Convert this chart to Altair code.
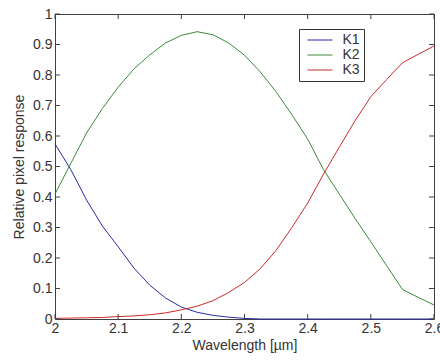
import altair as alt
import pandas as pd

wavelength = [2.0, 2.025, 2.05, 2.075, 2.1, 2.125, 2.15, 2.175, 2.2, 2.225, 2.25, 2.275, 2.3,
              2.325, 2.35, 2.375, 2.4, 2.425, 2.45, 2.475, 2.5, 2.525, 2.55, 2.575, 2.6]
k1 = [0.574, 0.49, 0.39, 0.305, 0.237, 0.167, 0.111, 0.069, 0.039, 0.022, 0.012, 0.006, 0.002,
      0.0, 0.0, 0.0, 0.0, 0.0, 0.0, 0.0, 0.0, 0.0, 0.0, 0.0, 0.0]
k2 = [0.41, 0.51, 0.61, 0.69, 0.76, 0.82, 0.866, 0.905, 0.93, 0.942, 0.932, 0.905, 0.865,
      0.81, 0.745, 0.67, 0.59, 0.49, 0.41, 0.33, 0.253, 0.175, 0.097, 0.071, 0.046]
k3 = [0.002, 0.003, 0.004, 0.005, 0.008, 0.010, 0.014, 0.020, 0.030, 0.042, 0.06, 0.087, 0.12,
      0.165, 0.225, 0.30, 0.38, 0.475, 0.563, 0.65, 0.729, 0.785, 0.84, 0.868, 0.895]
series_names = ["K1", "K2", "K3"]
series_colors = ["#2a2aa8", "#3a8a3a", "#cc2a2a"]
x_ticks = [2.0, 2.1, 2.2, 2.3, 2.4, 2.5, 2.6]
y_ticks = [0, 0.1, 0.2, 0.3, 0.4, 0.5, 0.6, 0.7, 0.8, 0.9, 1.0]

rows = []
for name, vals in zip(series_names, [k1, k2, k3]):
    for w, v in zip(wavelength, vals):
        rows.append({"wavelength": w, "response": v, "series": name})
df = pd.DataFrame(rows)

W, H = 379, 305
TL = 5
FONT = "Liberation Sans"

xscale = alt.Scale(domain=[2.0, 2.6], nice=False, zero=False)
yscale = alt.Scale(domain=[0, 1], nice=False)

xaxis = alt.Axis(title="Wavelength [µm]", values=x_ticks, ticks=False,
                 labelExpr="format(datum.value, '.1~f')",
                 labelPadding=2, titlePadding=3, grid=False,
                 labelFlush=False, labelOverlap=False)
yaxis = alt.Axis(title="Relative pixel response", values=y_ticks, ticks=False,
                 labelExpr="format(datum.value, '.1~f')",
                 labelPadding=3, titlePadding=6, grid=False,
                 labelFlush=False, labelOverlap=False)

lines = alt.Chart(df).mark_line(strokeWidth=1).encode(
    x=alt.X("wavelength:Q", scale=xscale, axis=xaxis),
    y=alt.Y("response:Q", scale=yscale, axis=yaxis),
    color=alt.Color("series:N",
                    scale=alt.Scale(domain=series_names, range=series_colors),
                    legend=alt.Legend(title=None, orient="none", legendX=244, legendY=15,
                                      symbolType="M-2,0H2", symbolSize=156,
                                      symbolStrokeWidth=1, symbolOffset=10,
                                      labelFontSize=14, labelFont=FONT,
                                      labelColor="#333333",
                                      labelExpr="datum.label + '\u2007'",
                                      strokeColor="#333333", fillColor="white",
                                      padding=4, rowPadding=1, labelOffset=15.5,
                                      cornerRadius=0)),
)

xt = pd.DataFrame({"t": x_ticks})
yt = pd.DataFrame({"t": y_ticks})
tick_color = "#404040"

bottom_ticks = alt.Chart(xt).mark_rule(color=tick_color, strokeWidth=1).encode(
    x=alt.X("t:Q", scale=xscale, axis=xaxis), y=alt.value(H), y2=alt.value(H - TL))
top_ticks = alt.Chart(xt).mark_rule(color=tick_color, strokeWidth=1).encode(
    x=alt.X("t:Q", scale=xscale, axis=xaxis), y=alt.value(0), y2=alt.value(TL))
left_ticks = alt.Chart(yt).mark_rule(color=tick_color, strokeWidth=1).encode(
    y=alt.Y("t:Q", scale=yscale, axis=yaxis), x=alt.value(0), x2=alt.value(TL))
right_ticks = alt.Chart(yt).mark_rule(color=tick_color, strokeWidth=1).encode(
    y=alt.Y("t:Q", scale=yscale, axis=yaxis), x=alt.value(W), x2=alt.value(W - TL))

chart = alt.layer(lines, bottom_ticks, top_ticks, left_ticks, right_ticks).properties(
    width=W, height=H,
    autosize=alt.AutoSizeParams(type="none"),
    padding={"left": 55, "top": 14, "right": 6, "bottom": 41},
    background="white",
).configure_view(
    stroke=tick_color, strokeWidth=1
).configure_axis(
    domain=False, labelFont=FONT, titleFont=FONT, labelFontSize=14, titleFontSize=14,
    labelColor="#333333", titleColor="#333333", titleFontWeight="normal",
    labelOverlap=False,
)

chart.save("out.html", embed_options={"renderer": "svg", "actions": False})
